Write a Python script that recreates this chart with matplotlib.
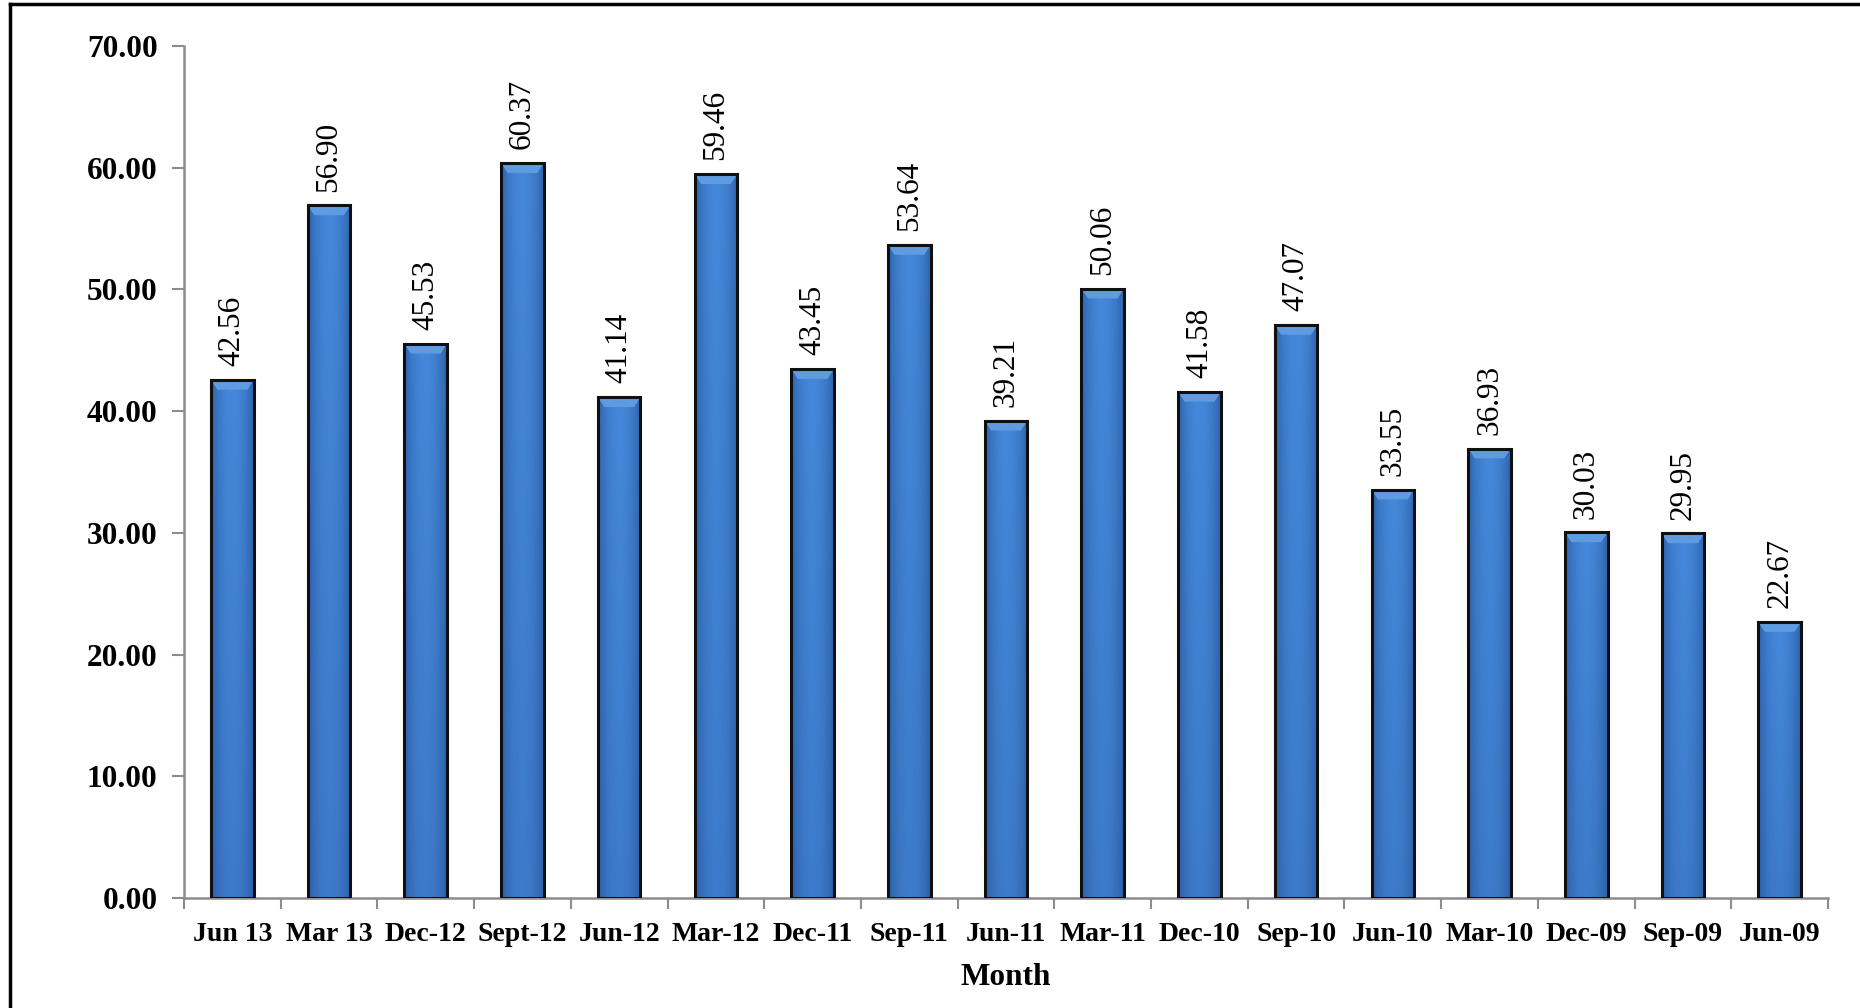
import matplotlib
matplotlib.use('agg')
import matplotlib.pyplot as plt
import numpy as np
from matplotlib.lines import Line2D

months = ['Jun 13', 'Mar 13', 'Dec-12', 'Sept-12', 'Jun-12', 'Mar-12', 'Dec-11',
          'Sep-11', 'Jun-11', 'Mar-11', 'Dec-10', 'Sep-10', 'Jun-10', 'Mar-10',
          'Dec-09', 'Sep-09', 'Jun-09']
values = [42.56, 56.90, 45.53, 60.37, 41.14, 59.46, 43.45, 53.64, 39.21, 50.06,
          41.58, 47.07, 33.55, 36.93, 30.03, 29.95, 22.67]
yticks = [0, 10, 20, 30, 40, 50, 60, 70]

plt.rcParams['font.family'] = ['Liberation Serif', 'DejaVu Serif']

fig = plt.figure(figsize=(18.6, 10.08), dpi=100)
ax = fig.add_axes([184 / 1860, 1 - 898 / 1008, (1828 - 184) / 1860, (898 - 46) / 1008])

x = np.arange(len(months))
bars = ax.bar(x, values, width=0.44, facecolor='none', edgecolor='#101010',
              linewidth=2.2, zorder=3)

# gradient fill: lighter in the middle, darker to the sides and the bottom
light = np.array([0.27, 0.53, 0.85])
dark = np.array([0.15, 0.34, 0.62])
xs = np.linspace(-1, 1, 60)
ys = np.linspace(0, 1, 200)
h = 1 - np.abs(xs) ** 2
v = 0.75 + 0.25 * ys
t = (h[None, :] * 0.75 + 0.25) * v[:, None]
grad = dark[None, None, :] + (light - dark)[None, None, :] * t[:, :, None]

for b in bars:
    x0, w, hgt = b.get_x(), b.get_width(), b.get_height()
    im = ax.imshow(grad, extent=(x0, x0 + w, 0, hgt), origin='lower',
                   aspect='auto', zorder=2, interpolation='bilinear')
    im.set_clip_path(b)
    # light bevel at the top of each bar
    ax.fill([x0, x0 + w, x0 + w * 0.85, x0 + w * 0.15],
            [hgt, hgt, hgt - 0.8, hgt - 0.8], color='#5e9be0', zorder=2.5, lw=0)

for xi, val in zip(x, values):
    ax.annotate(f'{val:.2f}', (xi, val), xytext=(0, 10), textcoords='offset points',
                rotation=90, ha='center', va='bottom', fontsize=22.5)

ax.set_xlim(-0.5, len(months) - 0.5)
ax.set_ylim(0, 70)
ax.set_yticks(yticks)
ax.set_yticklabels([f'{v:.2f}' for v in yticks], fontsize=22.5, fontweight='bold')
ax.set_xticks(x)
ax.set_xticklabels(months, fontsize=20, fontweight='bold')
ax.set_xticks(np.arange(len(months) + 1) - 0.5, minor=True)
ax.tick_params(axis='x', which='major', length=0, pad=17)
ax.tick_params(axis='x', which='minor', length=8, width=1.5, color='#8c8c8c')
ax.tick_params(axis='y', length=9, width=1.5, color='#8c8c8c', pad=10)

for s in ['top', 'right']:
    ax.spines[s].set_visible(False)
for s in ['left', 'bottom']:
    ax.spines[s].set_color('#8c8c8c')
    ax.spines[s].set_linewidth(1.8)

ax.set_xlabel('Month', fontsize=22.5, fontweight='bold', labelpad=12)

# outer frame of the picture
fig.add_artist(Line2D([10 / 1860, 10 / 1860], [0, 1 - 4 / 1008], color='black', lw=2.5))
fig.add_artist(Line2D([10 / 1860, 1], [1 - 4 / 1008, 1 - 4 / 1008], color='black', lw=2.5))

fig.savefig('out.png', dpi=100)
